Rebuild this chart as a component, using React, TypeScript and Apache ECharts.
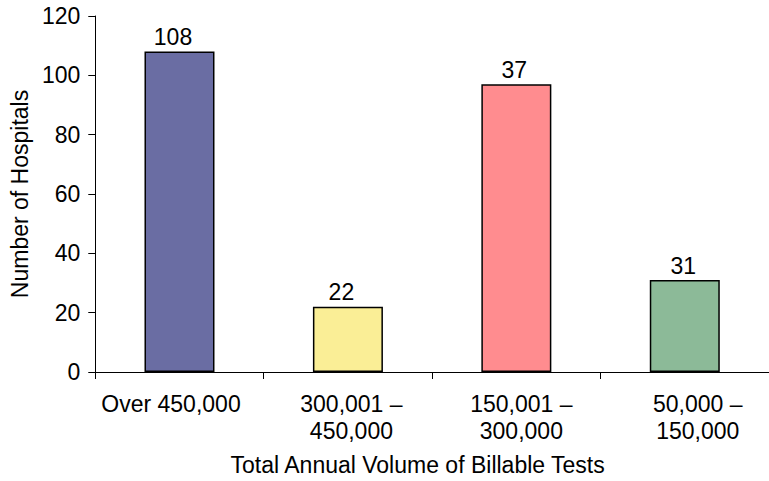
import React, { useEffect, useRef } from "react";
import * as echarts from "echarts";

const categories = ["Over 450,000", "300,001 –\n450,000", "150,001 –\n300,000", "50,000 –\n150,000"];
const barValues = [108, 22, 97, 31];
const barLabels = ["108", "22", "37", "31"];
const barColors = ["#6A6DA3", "#FAEE96", "#FF8C8F", "#8CBA98"];
const yTicks = { min: 0, max: 120, interval: 20 };
const yTitle = "Number of Hospitals";
const xTitle = "Total Annual Volume of Billable Tests";

// style-only horizontal nudges (px) to mimic the original label placement
const catLabelShift = [-8.5, 3.5, 5, 13];
const valueLabelShift = [-6.5, -6.5, -2, -1.5];

const FONT = "'Liberation Sans', Arial, sans-serif";
const FS = 23;

export default function App() {
  const ref = useRef<HTMLDivElement>(null);
  useEffect(() => {
    if (!ref.current) return;
    const chart = echarts.init(ref.current, null, { renderer: "svg" });
    const rich: Record<string, any> = {};
    catLabelShift.forEach((s, i) => {
      rich["c" + i] = {
        fontSize: FS,
        lineHeight: 27,
        color: "#000",
        fontFamily: FONT,
        padding: s >= 0 ? [0, 0, 0, 2 * s] : [0, -2 * s, 0, 0],
      };
    });
    chart.setOption({
      animation: false,
      textStyle: { fontFamily: FONT, color: "#000" },
      grid: { left: 95, right: 0, top: 16, bottom: 108, containLabel: false },
      xAxis: {
        type: "category",
        data: categories,
        name: xTitle,
        nameLocation: "middle",
        nameGap: 81,
        nameTextStyle: { fontSize: FS, color: "#000", fontFamily: FONT, padding: [0, 29, 0, 0] },
        axisLine: { show: true, lineStyle: { color: "#000", width: 1 } },
        axisTick: { show: true, inside: false, length: 7, alignWithLabel: false, lineStyle: { color: "#000" } },
        axisLabel: {
          interval: 0,
          margin: 18,
          color: "#000",
          fontSize: FS,
          lineHeight: 27,
          fontFamily: FONT,
          formatter: (v: string, idx: number) => v.split("\n").map((s) => `{c${idx}|${s}}`).join("\n"),
          rich,
        },
        splitLine: { show: false },
      },
      yAxis: {
        type: "value",
        min: yTicks.min,
        max: yTicks.max,
        interval: yTicks.interval,
        name: yTitle,
        nameLocation: "middle",
        nameGap: 61,
        nameTextStyle: { fontSize: FS, color: "#000", fontFamily: FONT },
        axisLine: { show: true, lineStyle: { color: "#000", width: 1 } },
        axisTick: { show: true, inside: false, length: 7, lineStyle: { color: "#000" } },
        axisLabel: { margin: 15, color: "#000", fontSize: FS, fontFamily: FONT },
        splitLine: { show: false },
      },
      series: [
        {
          type: "bar",
          barWidth: 70,
          data: barValues.map((v, i) => ({
            value: v,
            itemStyle: { color: barColors[i], borderColor: "#000", borderWidth: 1.5 },
            label: { formatter: barLabels[i], offset: [valueLabelShift[i], 0] },
          })),
          label: {
            show: true,
            position: "top",
            distance: 3,
            color: "#000",
            fontSize: FS,
            fontFamily: FONT,
          },
        },
      ],
    });
    return () => chart.dispose();
  }, []);
  return <div ref={ref} style={{ width: 769, height: 481, position: "absolute", left: 0, top: 0 }} />;
}
